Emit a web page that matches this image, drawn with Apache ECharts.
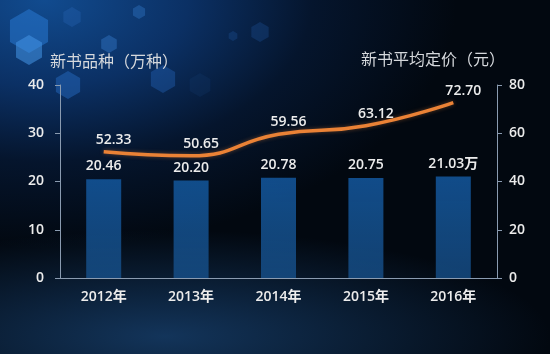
<!DOCTYPE html>
<html>
<head>
<meta charset="utf-8">
<script src="https://cdn.jsdelivr.net/npm/echarts@6/dist/echarts.min.js"></script>
<style>
  html, body { margin: 0; padding: 0; }
  #chart {
    width: 550px;
    height: 354px;
    background:
      radial-gradient(ellipse 70% 30% at 30% 95%, rgba(30, 82, 140, 0.6), rgba(10, 30, 60, 0) 100%),
      radial-gradient(ellipse 75% 70% at 8% 0%, #114b8f 0%, #0b3064 35%, #05152d 65%, #020810 100%);
  }
</style>
</head>
<body>
<div id="chart"></div>
<script>
// 年份
const years = ['2012年', '2013年', '2014年', '2015年', '2016年']
// 新书品种（万种）
const kinds = [20.46, 20.20, 20.78, 20.75, 21.03]
// 新书平均定价（元）
const prices = [52.33, 50.65, 59.56, 63.12, 72.70]

const textColor = '#ececec'
const fontFamily = '"Open Sans", "Noto Sans CJK SC", sans-serif'

// 背景里的六边形装饰
const hexagon = (cx, cy, r, color) => {
  const points = []
  for (let i = 0; i < 6; i++) {
    const a = Math.PI / 3 * i + Math.PI / 6
    points.push([cx + r * Math.cos(a), cy + r * Math.sin(a)])
  }
  return { type: 'polygon', silent: true, z: -10, shape: { points }, style: { fill: color } }
}

const chart = echarts.init(document.getElementById('chart'))
chart.setOption({
  textStyle: { fontFamily },
  graphic: [
    hexagon(29, 31, 22, 'rgba(40, 120, 210, 0.55)'),
    hexagon(29, 50, 15, 'rgba(70, 150, 230, 0.55)'),
    hexagon(72, 17, 10, 'rgba(40, 100, 180, 0.35)'),
    hexagon(109, 44, 9, 'rgba(50, 120, 200, 0.45)'),
    hexagon(68, 85, 14, 'rgba(40, 110, 200, 0.45)'),
    hexagon(163, 79, 14, 'rgba(40, 110, 200, 0.35)'),
    hexagon(139, 12, 7, 'rgba(50, 120, 200, 0.4)'),
    hexagon(260, 32, 10, 'rgba(30, 80, 150, 0.35)'),
    hexagon(233, 36, 5, 'rgba(30, 80, 150, 0.35)'),
    hexagon(200, 85, 12, 'rgba(20, 60, 110, 0.25)')
  ],
  grid: {
    left: 60,
    right: 53,
    top: 85,
    bottom: 76
  },
  xAxis: {
    type: 'category',
    data: years,
    axisLine: { lineStyle: { color: '#8a9bb0' } },
    axisTick: { lineStyle: { color: '#8a9bb0' } },
    axisLabel: { color: textColor, fontSize: 14, fontWeight: 600, margin: 12 }
  },
  yAxis: [
    {
      type: 'value',
      name: '新书品种（万种）',
      nameLocation: 'end',
      nameGap: 15,
      nameTextStyle: { color: '#d5d8dc', fontSize: 16, align: 'left', padding: [0, 0, 0, -10] },
      min: 0,
      max: 40,
      interval: 10,
      splitLine: { show: false },
      axisLine: { show: true, lineStyle: { color: '#8a9bb0' } },
      axisTick: { show: true, lineStyle: { color: '#8a9bb0' } },
      axisLabel: { color: textColor, fontSize: 14, fontWeight: 600, margin: 16 }
    },
    {
      type: 'value',
      name: '新书平均定价（元）',
      nameLocation: 'end',
      nameGap: 17,
      nameTextStyle: { color: '#d5d8dc', fontSize: 16, align: 'right', padding: [0, -8, 0, 0] },
      min: 0,
      max: 80,
      interval: 20,
      splitLine: { show: false },
      axisLine: { show: true, lineStyle: { color: '#8a9bb0' } },
      axisTick: { show: true, lineStyle: { color: '#8a9bb0' } },
      axisLabel: { color: textColor, fontSize: 14, fontWeight: 600, margin: 12 }
    }
  ],
  series: [
    {
      name: '新书品种',
      type: 'bar',
      data: kinds,
      barWidth: 35,
      itemStyle: {
        color: new echarts.graphic.LinearGradient(0, 0, 0, 1, [
          { offset: 0, color: 'rgba(18, 82, 148, 0.92)' },
          { offset: 1, color: 'rgba(24, 84, 145, 0.75)' }
        ])
      },
      label: {
        show: true,
        position: 'top',
        distance: 6,
        color: textColor,
        fontSize: 14,
        fontWeight: 600,
        formatter: (p) => p.value.toFixed(2) + (p.dataIndex === kinds.length - 1 ? '万' : '')
      }
    },
    {
      name: '新书平均定价',
      type: 'line',
      yAxisIndex: 1,
      data: prices,
      smooth: 0.5,
      showSymbol: true,
      symbol: 'circle',
      symbolSize: 2,
      itemStyle: { color: 'transparent', borderWidth: 0 },
      lineStyle: {
        color: '#ea8236',
        width: 3.5,
        shadowColor: 'rgba(234, 130, 54, 0.4)',
        shadowBlur: 4
      },
      label: {
        show: true,
        position: 'top',
        distance: 4,
        offset: [10, 0],
        color: '#ececec',
        fontSize: 14,
        fontWeight: 600,
        formatter: (p) => p.value.toFixed(2)
      }
    }
  ]
})
</script>
</body>
</html>
